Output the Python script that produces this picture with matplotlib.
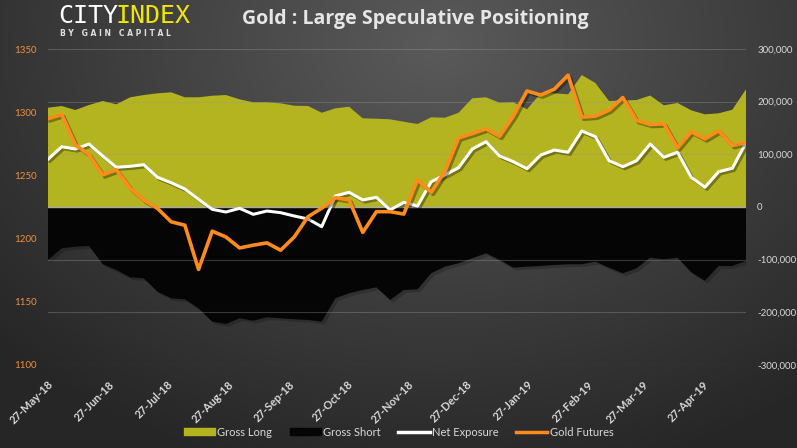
import numpy as np
import matplotlib
matplotlib.use("Agg")
import matplotlib.pyplot as plt
import matplotlib.dates as mdates
import matplotlib.patheffects as pe
from matplotlib.patches import Patch
from matplotlib.lines import Line2D
from matplotlib.ticker import FuncFormatter

# weekly CFTC data, large speculators in gold futures
dates = np.arange(np.datetime64("2018-05-27"), np.datetime64("2019-05-20"), np.timedelta64(7, "D"))

gross_long = [188500, 191800, 184200, 193700, 201300, 195000, 208300, 212600, 215900, 217800,
              208300, 208300, 211300, 212600, 204500, 198800, 198800, 196900, 192300, 191800,
              179000, 187400, 190400, 168400, 167600, 166500, 161900, 157600, 170300, 169500,
              179000, 206400, 208300, 198000, 199000, 185500, 215900, 215900, 214000, 250600,
              235400, 201300, 202200, 203100, 211700, 193100, 197500, 183600, 176000, 177900,
              184700, 223500]
gross_short = [-100600, -78400, -75400, -74000, -108800, -119600, -133500, -135400, -160800, -173300,
               -175200, -192300, -217800, -222100, -211300, -215900, -209400, -211300, -213200, -214500,
               -217800, -173300, -163800, -157600, -152500, -176600, -157600, -156300, -125900, -113300,
               -106900, -97400, -87900, -100600, -115200, -113300, -112000, -110100, -108800, -108800,
               -103900, -115200, -125900, -116400, -96300, -99300, -96300, -124000, -139900, -112000,
               -112000, -102500]
net_exposure = [90600, 114500, 110100, 119600, 96800, 75400, 77300, 80300, 56400, 46100,
                34200, 14600, -4400, -9500, -2500, -13900, -7600, -10800, -17100, -22800,
                -37400, 20900, 27900, 13300, 18400, -5700, 8900, 1900, 48000, 60800,
                74600, 110100, 124000, 96800, 86000, 72700, 98700, 108200, 103900, 144300,
                133500, 87900, 76500, 87900, 119600, 94400, 103900, 56400, 37400, 67000,
                73500, 122100]
gold_futures = [1294.8, 1298.2, 1274.3, 1266.4, 1250.4, 1254.4, 1239.9, 1230.5, 1223.9, 1213.3,
                1210.6, 1175.6, 1205.9, 1201.3, 1192.6, 1194.8, 1196.6, 1190.8, 1201.4, 1217.3,
                1224.0, 1232.4, 1230.6, 1204.9, 1221.3, 1221.3, 1219.4, 1246.5, 1236.7, 1253.1,
                1279.7, 1283.1, 1286.9, 1281.0, 1296.9, 1316.8, 1313.6, 1318.2, 1329.3, 1296.1,
                1296.9, 1301.7, 1311.6, 1293.5, 1290.3, 1290.8, 1271.7, 1284.5, 1278.9, 1285.3,
                1273.6, 1276.2]

long_col = "#b4b420"
short_col = "#050505"
orange = "#ff8c1a"
tick_orange = "#f0903a"
light = "#d9d9d9"

fig = plt.figure(figsize=(7.97, 4.48), dpi=100)

# dark radial background
bg = fig.add_axes([0, 0, 1, 1], zorder=-10)
bg.axis("off")
gx, gy = np.meshgrid(np.linspace(0, 1, 400), np.linspace(0, 1, 225))
d = np.sqrt(((gx - 0.55) / 0.75) ** 2 + ((gy - 0.1) / 1.0) ** 2)
shade = 0x5a / 255 + (0x26 / 255 - 0x5a / 255) * np.clip(d, 0, 1)
bg.imshow(np.dstack([shade] * 3), aspect="auto", extent=[0, 1, 0, 1], origin="upper")

ax = fig.add_axes([0.0602, 0.1853, 0.8758, 0.7053])
ax.set_facecolor("none")
axp = ax.twinx()
axp.set_facecolor("none")

shadow = [pe.SimplePatchShadow(offset=(2, -2), shadow_rgbFace="black", alpha=0.2), pe.Normal()]
ax.fill_between(dates, 0, gross_long, color=long_col, lw=0, zorder=1, path_effects=shadow)
ax.fill_between(dates, 0, gross_short, color=short_col, lw=0, zorder=1, path_effects=shadow)

for v in [-300000, -200000, -100000, 100000, 200000, 300000]:
    ax.axhline(v, color="#9a9a9a", alpha=0.35, lw=0.8, zorder=1.5)
ax.axhline(0, color="#a8a8a8", lw=1.0, zorder=1.6)

lshadow = [pe.SimpleLineShadow(offset=(1.5, -1.5), shadow_color="black", alpha=0.35), pe.Normal()]
ax.plot(dates, net_exposure, color="white", lw=2.2, zorder=3, path_effects=lshadow)
axp.plot(dates, gold_futures, color=orange, lw=2.6, zorder=3, path_effects=lshadow)

ax.set_xlim(dates[0], dates[-1])
ax.set_ylim(-300000, 300000)
axp.set_ylim(1100, 1350)
ax.set_yticks(np.arange(-300000, 300001, 100000))
axp.set_yticks(np.arange(1100, 1351, 50))
ax.yaxis.tick_right()
axp.yaxis.tick_left()
ax.yaxis.set_major_formatter(FuncFormatter(lambda v, _: f"{v:,.0f}"))

ax.xaxis.set_major_locator(mdates.MonthLocator(bymonthday=27))
ax.xaxis.set_major_formatter(mdates.DateFormatter("%d-%b-%y"))

for a in (ax, axp):
    for s in a.spines.values():
        s.set_visible(False)
    a.tick_params(length=0)

ax.tick_params(axis="y", colors=light, labelsize=7, pad=8)
axp.tick_params(axis="y", colors=tick_orange, labelsize=7, pad=8)
ax.tick_params(axis="x", colors=light, labelsize=8, pad=10)
for lab in ax.get_xticklabels():
    lab.set_rotation(45)
    lab.set_ha("right")
    lab.set_va("top")
    lab.set_rotation_mode("anchor")
    lab.set_fontweight("bold")
for lab in ax.get_yticklabels() + axp.get_yticklabels() + ax.get_xticklabels():
    lab.set_family("Lato")

# title and logo
fig.text(0.521, 0.958, "Gold : Large Speculative Positioning", color="#e6e6e6",
         fontsize=14, fontweight="bold", family="Open Sans", ha="center", va="center")
fig.text(58 / 797, 1 - 16 / 448, "CITY", color="white", fontsize=18, family="DejaVu Sans Mono",
         ha="left", va="center")
fig.text(115 / 797, 1 - 16 / 448, "INDEX", color="#f2e600", fontsize=18, family="DejaVu Sans Mono",
         ha="left", va="center")
fig.text(60 / 797, 1 - 34 / 448, "B Y   G A I N   C A P I T A L", color="#e0e0e0", fontsize=5.5,
         fontweight="bold", family="DejaVu Sans", ha="left", va="center")

handles = [Patch(color=long_col), Patch(color=short_col),
           Line2D([], [], color="white", lw=2.5), Line2D([], [], color=orange, lw=2.5)]
labels = ["Gross Long", "Gross Short", "Net Exposure", "Gold Futures"]
leg = fig.legend(handles, labels, loc="center", bbox_to_anchor=(0.5, 1 - 432 / 448), ncol=4,
                 frameon=False, handlelength=2.8, handleheight=0.6,
                 handletextpad=0.2, columnspacing=1.6, prop={"family": "Lato", "size": 8})
for t in leg.get_texts():
    t.set_color(light)

fig.savefig("out.png", dpi=100)
